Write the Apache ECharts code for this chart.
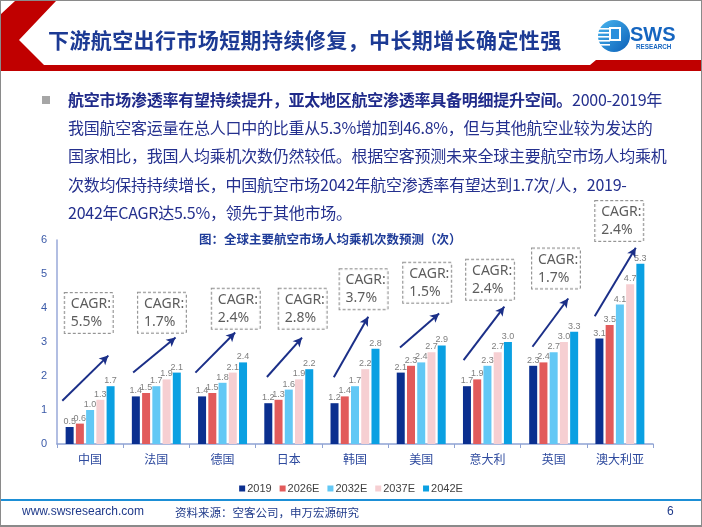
<!DOCTYPE html>
<html>
<head>
<meta charset="utf-8">
<script src="https://cdn.jsdelivr.net/npm/echarts@6/dist/echarts.min.js"></script>
<style>
  html, body { margin:0; padding:0; width:702px; height:527px; overflow:hidden; background:#fff; }
  #slide { position:absolute; left:0; top:0; width:702px; height:527px; box-sizing:border-box; border:1px solid #8a8a8a; border-bottom:2px solid #8a8a8a; }
  #chart { position:absolute; left:0; top:0; width:702px; height:527px; z-index:1; }
  .txt { position:absolute; z-index:2; white-space:nowrap; font-family:"Noto Sans CJK SC","Noto Sans",sans-serif; }
  #title { left:48px; top:24px; font-size:21px; font-weight:bold; color:#1c3a94; letter-spacing:0.4px; }
  #body { left:68px; top:85px; font-size:16px; line-height:28.2px; color:#24308e; letter-spacing:-0.25px; }
  #body b { font-weight:bold; color:#1f2a8a; }
  #bullet { position:absolute; left:42px; top:96px; width:8px; height:8px; background:#a6a6a6; z-index:2; }
  #ctitle { left:199px; top:229px; font-size:12.5px; font-weight:bold; color:#1f3c99; }
  #footline { position:absolute; left:1px; top:499px; width:700px; height:2px; background:#1d8fd6; z-index:2; }
  #url { left:22px; top:504px; font-family:Arial,"Liberation Sans",sans-serif; font-size:12px; color:#1f3a8a; }
  #src { left:175px; top:504px; font-size:11.5px; color:#1f3a8a; }
  #page { left:667px; top:504px; font-family:Arial,"Liberation Sans",sans-serif; font-size:12px; color:#1f3a8a; }
</style>
</head>
<body>
<div id="slide"></div>
<svg style="position:absolute;left:0;top:0;z-index:2" width="702" height="75">
  <polygon points="15,1 56,1 19,40 44,65 560,65 560,71 1,71 1,14" fill="#c00000"/>
  <polygon points="560,65 590,65 596,60 701,60 701,71 560,71" fill="#c00000"/>
  <defs>
    <linearGradient id="lg" x1="0" y1="0" x2="1" y2="1">
      <stop offset="0" stop-color="#49b6ef"/>
      <stop offset="1" stop-color="#0b5fb8"/>
    </linearGradient>
  </defs>
  <circle cx="614" cy="36" r="16" fill="url(#lg)"/>
  <rect x="598" y="28" width="12" height="1.6" fill="#fff"/>
  <rect x="598" y="32" width="12" height="1.6" fill="#fff"/>
  <rect x="598" y="36" width="12" height="1.6" fill="#fff"/>
  <rect x="598" y="40" width="12" height="1.6" fill="#fff"/>
  <rect x="598" y="44" width="12" height="1.6" fill="#fff"/>
  <rect x="609" y="27" width="12" height="14" fill="#fff"/>
  <rect x="611" y="29" width="8" height="10" fill="#2a8fdc"/>
  <text x="630" y="41" font-family="Arial, Liberation Sans, sans-serif" font-weight="bold" font-size="20" fill="#1565c0">SWS</text>
  <text x="636" y="48.5" font-family="Arial, Liberation Sans, sans-serif" font-weight="bold" font-size="6.3" fill="#1565c0">RESEARCH</text>
</svg>
<div class="txt" id="title">下游航空出行市场短期持续修复，中长期增长确定性强</div>
<div id="bullet"></div>
<div class="txt" id="body"><b>航空市场渗透率有望持续提升，亚太地区航空渗透率具备明细提升空间。</b>2000-2019年<br>我国航空客运量在总人口中的比重从5.3%增加到46.8%，但与其他航空业较为发达的<br>国家相比，我国人均乘机次数仍然较低。根据空客预测未来全球主要航空市场人均乘机<br>次数均保持持续增长，中国航空市场2042年航空渗透率有望达到1.7次/人，2019-<br>2042年CAGR达5.5%，领先于其他市场。</div>
<div class="txt" id="ctitle">图：全球主要航空市场人均乘机次数预测（次）</div>
<div id="footline"></div>
<div class="txt" id="url">www.swsresearch.com</div>
<div class="txt" id="src">资料来源：空客公司，申万宏源研究</div>
<div class="txt" id="page">6</div>
<div id="chart"></div>
<script>
// ---- data ----
const categories = ['中国','法国','德国','日本','韩国','美国','意大利','英国','澳大利亚'];
const seriesNames = ['2019','2026E','2032E','2037E','2042E'];
const v2019 = [0.5, 1.4, 1.4, 1.2, 1.2, 2.1, 1.7, 2.3, 3.1];
const v2026E = [0.6, 1.5, 1.5, 1.3, 1.4, 2.3, 1.9, 2.4, 3.5];
const v2032E = [1.0, 1.7, 1.8, 1.6, 1.7, 2.4, 2.3, 2.7, 4.1];
const v2037E = [1.3, 1.9, 2.1, 1.9, 2.2, 2.7, 2.7, 3.0, 4.7];
const v2042E = [1.7, 2.1, 2.4, 2.2, 2.8, 2.9, 3.0, 3.3, 5.3];
const cagr = [5.5, 1.7, 2.4, 2.8, 3.7, 1.5, 2.4, 1.7, 2.4];
const yTicks = [0, 1, 2, 3, 4, 5, 6];

// ---- annotation layout (offsets in category units / axis values) ----
const boxLayout = [[-0.02,3.85],[0.085,3.86],[0.2,3.98],[0.21,3.98],[0.13,4.55],[0.09,4.74],[0.04,4.83],[0.035,5.16],[-0.01,6.56]];
const arrowLayout = [
  [-0.42,1.27,0.275,2.6],[-0.35,2.1,0.29,3.13],[-0.41,2.1,0.19,3.28],[-0.33,1.97,0.2,3.13],
  [-0.32,1.96,0.2,3.74],[-0.32,2.84,0.27,3.84],[-0.36,2.47,0.255,4.04],[-0.32,2.86,0.22,4.28],[-0.38,3.76,0.24,5.77]
];

const values = [v2019, v2026E, v2032E, v2037E, v2042E];
const colors = ['#0b2f8f', '#e25b5b', '#62c8f5', '#f6cfd2', '#0aa0e2'];

const chart = echarts.init(document.getElementById('chart'), null, {renderer:'canvas'});

const barSeries = seriesNames.map((n, k) => ({
  name: n, type: 'bar', xAxisIndex: 0, yAxisIndex: 0,
  data: values[k], barWidth: 8, barGap: '28%',
  itemStyle: { color: colors[k] },
  label: { show: true, position: 'top', distance: 1, fontSize: 9, color: '#7f7f7f',
           fontFamily: 'Arial, Liberation Sans, sans-serif',
           formatter: p => p.value.toFixed(1) }
}));

const boxData = categories.map((c, i) => ({ value: [i + boxLayout[i][0], boxLayout[i][1]] }));
const arrowData = categories.map((c, i) => {
  const a = arrowLayout[i];
  return [{ coord: [i + a[0], a[1]] }, { coord: [i + a[2], a[3]] }];
});

const annot = {
  name: 'annot', type: 'scatter', xAxisIndex: 1, yAxisIndex: 0,
  symbolSize: 0, clip: false, silent: true, z: 5,
  data: boxData,
  label: {
    show: true, position: 'inside',
    formatter: p => '{a|CAGR:}\n{a|' + cagr[p.dataIndex].toFixed(1) + '%}',
    borderColor: '#7a7a7a', borderWidth: 1, borderType: [3, 2],
    padding: [2, 3, 2, 6], backgroundColor: '#fff',
    rich: { a: { width: 39, align: 'left', fontSize: 14, lineHeight: 18, color: '#333333',
                 fontFamily: '"Noto Sans","Open Sans",sans-serif' } }
  },
  markLine: {
    silent: true, symbol: ['none', 'arrow'], symbolSize: [7, 9],
    lineStyle: { color: '#1b2f88', width: 2, type: 'solid' },
    label: { show: false }, animation: false,
    data: arrowData
  }
};

chart.setOption({
  animation: false,
  grid: { left: 57, right: 49, top: 240, bottom: 83 },
  legend: {
    data: seriesNames, top: 478, left: 'center', icon: 'rect',
    itemWidth: 6, itemHeight: 6, itemGap: 8,
    textStyle: { fontSize: 11, color: '#404040', fontFamily: 'Arial, Liberation Sans, sans-serif', padding: [0,0,0,-3] }
  },
  xAxis: [
    { type: 'category', data: categories,
      axisLine: { onZero: false, lineStyle: { color: '#8fa3d3', width: 1.5 } },
      axisTick: { show: true, length: 4, lineStyle: { color: '#8fa3d3' } },
      axisLabel: { color: '#2e4a9e', fontSize: 12, margin: 9, fontFamily: '"Noto Sans CJK SC",sans-serif' } },
    { type: 'value', min: -0.5, max: 8.5, show: false }
  ],
  yAxis: {
    type: 'value', min: yTicks[0], max: yTicks[yTicks.length - 1], interval: 1,
    axisLine: { show: true, onZero: false, lineStyle: { color: '#98a9d8', width: 1.5 } },
    axisTick: { show: false }, splitLine: { show: false },
    axisLabel: { color: '#3b5aa8', fontSize: 11, margin: 10, fontFamily: 'Arial, Liberation Sans, sans-serif' }
  },
  series: [...barSeries, annot]
});
</script>
</body>
</html>
